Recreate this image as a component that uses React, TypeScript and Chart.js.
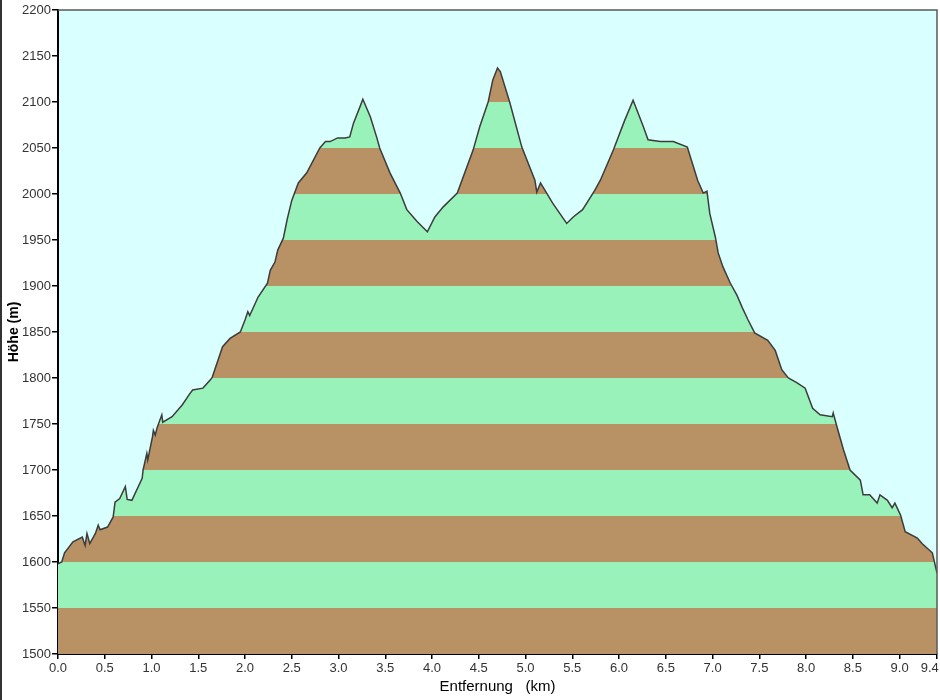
import React, { useEffect, useRef } from "react";
import { Chart, registerables } from "chart.js";

Chart.register(...registerables);

// Distance along the route (km)
const distanceKm = [
  0.0, 0.04, 0.07, 0.16, 0.26, 0.29, 0.31, 0.34, 0.4, 0.43,
  0.45, 0.53, 0.59, 0.61, 0.66, 0.72, 0.74, 0.79, 0.9, 0.91,
  0.95, 0.96, 1.01, 1.02, 1.04, 1.06, 1.11, 1.12, 1.22, 1.33,
  1.41, 1.44, 1.55, 1.63, 1.65, 1.7, 1.76, 1.84, 1.95, 2.0,
  2.03, 2.05, 2.14, 2.24, 2.27, 2.32, 2.35, 2.41, 2.45, 2.5,
  2.57, 2.66, 2.8, 2.86, 2.91, 2.99, 3.07, 3.12, 3.16, 3.23,
  3.26, 3.34, 3.41, 3.44, 3.55, 3.66, 3.73, 3.84, 3.95, 4.03,
  4.12, 4.27, 4.44, 4.51, 4.6, 4.65, 4.7, 4.73, 4.83, 4.96,
  5.1, 5.12, 5.16, 5.29, 5.44, 5.51, 5.61, 5.74, 5.8, 5.94,
  6.06, 6.15, 6.26, 6.31, 6.44, 6.58, 6.73, 6.84, 6.9, 6.94,
  6.97, 7.03, 7.06, 7.11, 7.19, 7.26, 7.32, 7.38, 7.45, 7.59,
  7.67, 7.74, 7.81, 7.9, 7.99, 8.07, 8.15, 8.28, 8.29, 8.33,
  8.4, 8.47, 8.58, 8.61, 8.68, 8.76, 8.79, 8.87, 8.92, 8.95,
  9.01, 9.06, 9.19, 9.24, 9.35, 9.4,
];

// Elevation (m)
const elevationM = [
  1598, 1600, 1610, 1622, 1627, 1618, 1631, 1620, 1631, 1640,
  1635, 1638, 1649, 1665, 1669, 1682, 1668, 1667, 1691, 1700,
  1718, 1711, 1736, 1743, 1738, 1746, 1760, 1752, 1758, 1771,
  1783, 1787, 1789, 1798, 1801, 1816, 1834, 1843, 1850, 1863,
  1872, 1868, 1888, 1903, 1917, 1926, 1939, 1952, 1972, 1993,
  2012, 2023, 2050, 2057, 2057, 2061, 2061, 2062, 2077, 2095,
  2103, 2084, 2061, 2050, 2023, 2001, 1983, 1970, 1959, 1975,
  1986, 2001, 2048, 2073, 2100, 2124, 2137, 2133, 2100, 2051,
  2015, 2002, 2012, 1990, 1968, 1975, 1983, 2004, 2015, 2048,
  2080, 2102, 2073, 2059, 2057, 2057, 2051, 2015, 2001, 2003,
  1979, 1953, 1936, 1921, 1903, 1890, 1876, 1863, 1849, 1841,
  1830, 1809, 1800, 1795, 1789, 1767, 1760, 1758, 1762, 1747,
  1722, 1700, 1689, 1673, 1673, 1664, 1673, 1667, 1659, 1664,
  1651, 1633, 1626, 1620, 1610, 1588,
];

// Axis ticks
const xTickValues = [0, 0.5, 1, 1.5, 2, 2.5, 3, 3.5, 4, 4.5, 5, 5.5, 6, 6.5, 7, 7.5, 8, 8.5, 9, 9.4];
const yMin = 1500;
const yMax = 2200;
const yStep = 50;

// Elevation band colours (alternating every yStep metres, starting at yMin)
const bandColors = ["#B89164", "#9AF2BB"];

const xTitle = "Entfernung   (km)";
const yTitle = "Höhe (m)";

const framePlugin = {
  id: "frame",
  beforeDraw(chart: any) {
    const { ctx, chartArea: a } = chart;
    ctx.save();
    ctx.fillStyle = "#ffffff";
    ctx.fillRect(0, 0, chart.width, chart.height);
    ctx.fillStyle = "#DAFFFF";
    ctx.fillRect(a.left, a.top, a.right - a.left, a.bottom - a.top);
    ctx.restore();
  },
  afterDraw(chart: any) {
    const { ctx, chartArea: a } = chart;
    ctx.save();
    ctx.strokeStyle = "#5a5a5a";
    ctx.lineWidth = 1.5;
    ctx.beginPath();
    ctx.moveTo(a.left, a.top);
    ctx.lineTo(a.right, a.top);
    ctx.lineTo(a.right, a.bottom);
    ctx.stroke();
    ctx.strokeStyle = "#333333";
    ctx.lineWidth = 2;
    ctx.beginPath();
    ctx.moveTo(1, 0);
    ctx.lineTo(1, chart.height);
    ctx.stroke();
    ctx.restore();
  },
};

function bandFill(context: any) {
  const chart = context.chart;
  const y = chart.scales && chart.scales.y;
  if (!chart.chartArea || !y) return bandColors[0];
  const p0 = y.getPixelForValue(yMin);
  const p1 = y.getPixelForValue(yMax);
  const g = chart.ctx.createLinearGradient(0, p0, 0, p1);
  const span = yMax - yMin;
  let i = 0;
  for (let v = yMin; v < yMax; v += yStep, i++) {
    const c = bandColors[i % bandColors.length];
    g.addColorStop((v - yMin) / span, c);
    g.addColorStop(Math.min(1, (v + yStep - yMin) / span), c);
  }
  return g;
}

export default function App() {
  const ref = useRef<HTMLCanvasElement | null>(null);

  useEffect(() => {
    document.body.style.margin = "0";
    const canvas = ref.current;
    if (!canvas) return;
    const points = distanceKm.map((d, i) => ({ x: d, y: elevationM[i] }));
    const tickFont = { family: "'Liberation Sans', Arial, sans-serif", size: 13 };
    const chart = new Chart(canvas, {
      type: "line",
      data: {
        datasets: [
          {
            data: points,
            borderColor: "#3c3c3c",
            borderWidth: 1.5,
            pointRadius: 0,
            tension: 0,
            fill: "start",
            backgroundColor: bandFill,
          },
        ],
      },
      options: {
        animation: false,
        responsive: false,
        maintainAspectRatio: false,
        layout: { padding: { top: 10, right: 3, left: 0, bottom: 0 } },
        plugins: {
          legend: { display: false },
          tooltip: { enabled: false },
        },
        scales: {
          x: {
            type: "linear",
            min: 0,
            max: 9.4,
            afterBuildTicks: (scale: any) => {
              scale.ticks = xTickValues.map((v) => ({ value: v }));
            },
            afterFit: (scale: any) => {
              scale.height = 46;
              scale.paddingLeft = 0;
              scale.paddingRight = 0;
            },
            ticks: {
              autoSkip: false,
              maxRotation: 0,
              padding: 2,
              color: "#333333",
              font: tickFont,
              callback: (v: any) => (Number(v) === 9.4 ? "9.4    " : Number(v).toFixed(1)),
            },
            grid: {
              drawOnChartArea: false,
              drawTicks: true,
              tickLength: 5,
              color: "#000000",
              lineWidth: 1.5,
            },
            border: { display: true, color: "#000000", width: 2 },
            title: {
              display: true,
              text: xTitle,
              color: "#000000",
              font: { family: "'Liberation Sans', Arial, sans-serif", size: 15 },
              padding: { top: 0, bottom: 4 },
            },
          },
          y: {
            type: "linear",
            min: yMin,
            max: yMax,
            afterFit: (scale: any) => {
              scale.width = 58;
            },
            ticks: {
              stepSize: yStep,
              padding: 1,
              color: "#333333",
              font: tickFont,
              callback: (v: any) => String(v),
            },
            grid: {
              drawOnChartArea: false,
              drawTicks: true,
              tickLength: 6,
              color: "#000000",
              lineWidth: 1.5,
            },
            border: { display: true, color: "#000000", width: 2 },
            title: {
              display: true,
              text: yTitle,
              color: "#000000",
              font: { family: "'Liberation Sans', Arial, sans-serif", size: 14, weight: "bold" },
              padding: { top: 6, bottom: 0 },
            },
          },
        },
      },
      plugins: [framePlugin],
    } as any);
    return () => chart.destroy();
  }, []);

  return (
    <div style={{ width: 940, height: 700 }}>
      <canvas ref={ref} width={940} height={700} style={{ display: "block" }} />
    </div>
  );
}
